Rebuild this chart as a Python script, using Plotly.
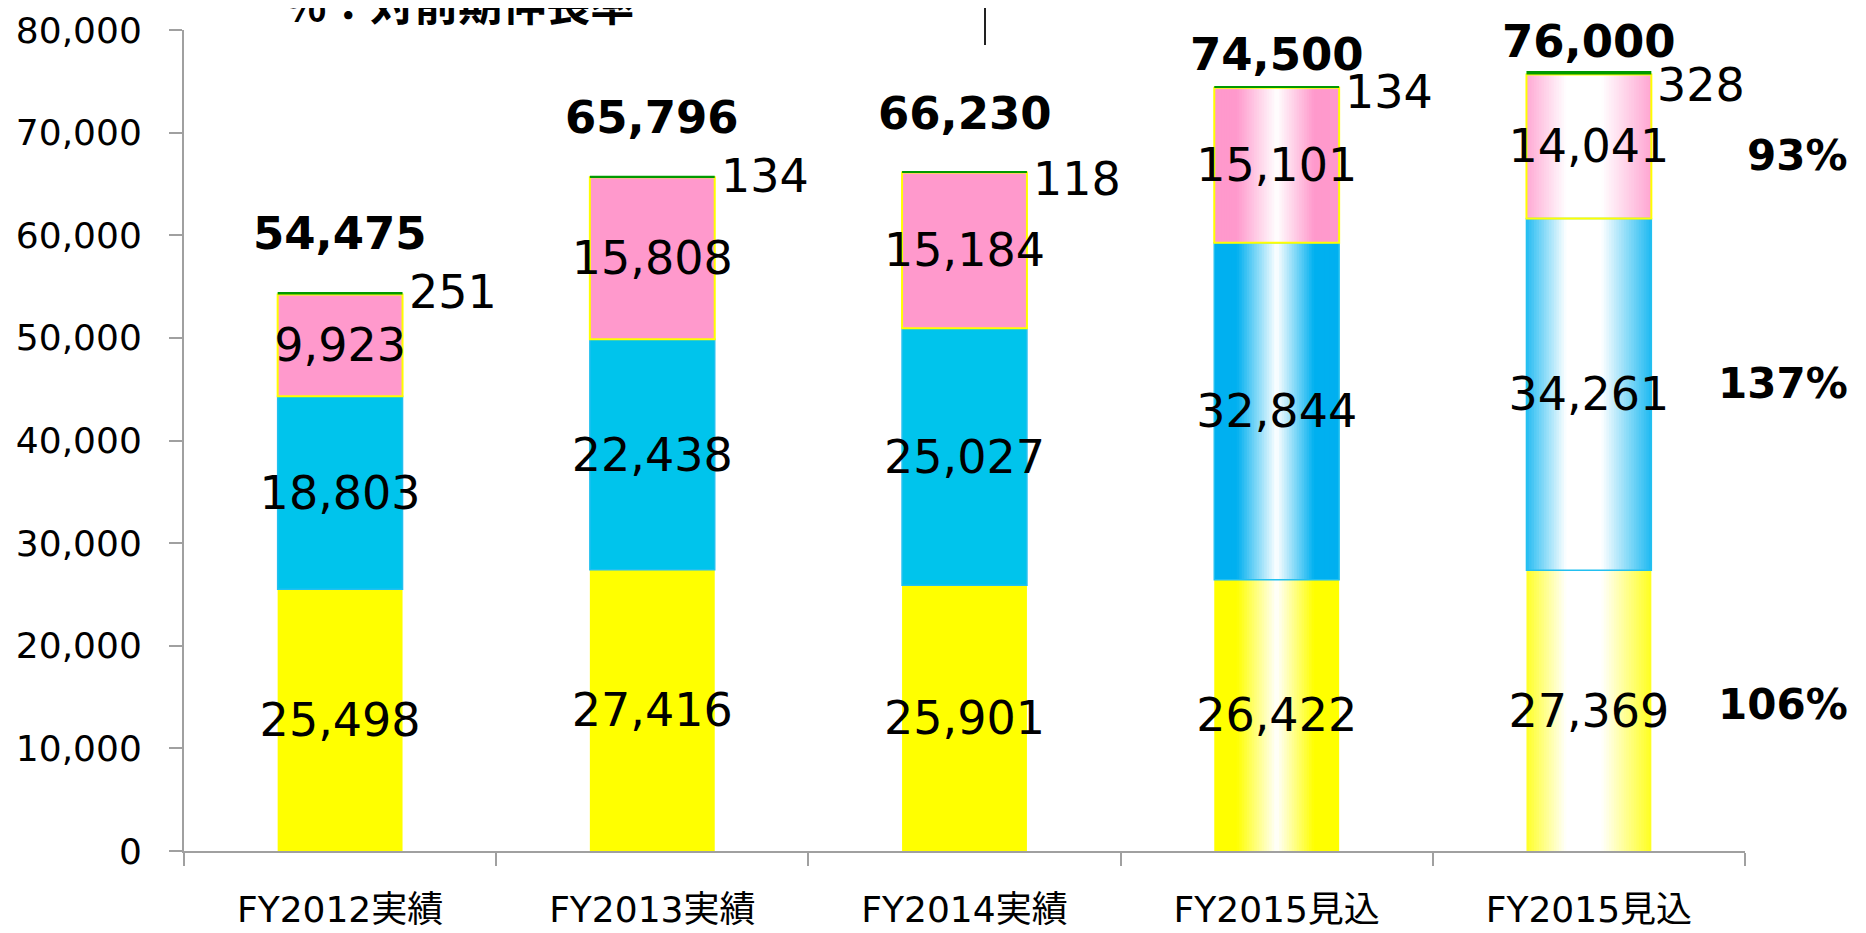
import numpy as np
import plotly.graph_objects as go

# ---------------- data ----------------
categories = ["FY2012実績", "FY2013実績", "FY2014実績", "FY2015見込", "FY2015見込\u200b"]
yellow_vals = [25498, 27416, 25901, 26422, 27369]
blue_vals = [18803, 22438, 25027, 32844, 34261]
pink_vals = [9923, 15808, 15184, 15101, 14041]
green_vals = [251, 134, 118, 134, 328]
total_labels = ["54,475", "65,796", "66,230", "74,500", "76,000"]
growth_labels = ["106%", "137%", "93%"]   # yellow, blue, pink of last bar
y_ticks = [0, 10000, 20000, 30000, 40000, 50000, 60000, 70000, 80000]
note_text = "%：対前期伸長率"

# ---------------- style ----------------
FONT = "DejaVu Sans, Verdana, Noto Sans CJK JP, sans-serif"
YEL, BLU, PNK, GRN = "#ffff00", "#00c4ec", "#ff99cc", "#009a00"
BLU_G = "#00b0f0"
BAR_W = 0.4
N_STRIPES = 50
OFF = 8  # page body margin
W_FIG, H_FIG = 1866 - OFF, 933 - OFF
L_PX, T_PX = 184 - OFF, 30 - OFF
R_PX = W_FIG - (1745 - OFF)
B_PX = H_FIG - (851 - OFF)
PW, PH = W_FIG - L_PX - R_PX, H_FIG - T_PX - B_PX

series = [yellow_vals, blue_vals, pink_vals, green_vals]
bases = []
cum = np.zeros(len(categories))
for s in series:
    bases.append(cum.copy())
    cum = cum + np.array(s)
tops = cum

gradient_bars = {3: ([0, 0.18, 0.5, 0.8, 1.0], [0, 0, 1, 0, 0]),
                 4: ([0, 0.32, 0.6, 1.0], [0.15, 1, 1, 0.12])}
grad_colors = [YEL, BLU_G, PNK]


def mix(hexc, w):
    r, g, b = int(hexc[1:3], 16), int(hexc[3:5], 16), int(hexc[5:7], 16)
    r = r + (255 - r) * w
    g = g + (255 - g) * w
    b = b + (255 - b) * w
    return f"rgb({r:.0f},{g:.0f},{b:.0f})"


def px_x(p):  # page pixel -> paper x
    return (p - OFF - L_PX) / PW


def px_y(p):  # page pixel -> paper y
    return (H_FIG - B_PX - (p - OFF)) / PH


fig = go.Figure()

# gradient stripes for forecast bars
sw = BAR_W / N_STRIPES
for i in range(N_STRIPES):
    t = (i + 0.5) / N_STRIPES
    xs, ys, bs, cs = [], [], [], []
    for bi, (px, pw) in gradient_bars.items():
        w = float(np.interp(t, px, pw))
        for si in range(3):
            xs.append(categories[bi])
            ys.append(series[si][bi])
            bs.append(bases[si][bi])
            cs.append(mix(grad_colors[si], w))
    width = sw * 1.6 if i < N_STRIPES - 1 else sw
    fig.add_trace(go.Bar(
        x=xs, y=ys, base=bs, width=width, offset=-BAR_W / 2 + i * sw,
        marker=dict(color=cs, line=dict(width=0)),
        hoverinfo="skip", showlegend=False))

# main segments
seg_styles = [
    (YEL, dict(width=0), True),
    (BLU, dict(width=1.5, color="#22c0f0"), True),
    (PNK, dict(width=2, color="#ffff00"), True),
    (GRN, dict(width=0), False),
]
for si, (col, line, show_text) in enumerate(seg_styles):
    colors = [col if (bi not in gradient_bars or si == 3) else "rgba(0,0,0,0)"
              for bi in range(len(categories))]
    fig.add_trace(go.Bar(
        x=categories, y=series[si], base=bases[si], width=BAR_W,
        marker=dict(color=colors, line=line),
        text=[f"{v:,}" for v in series[si]] if show_text else None,
        textposition="inside" if show_text else "none",
        insidetextanchor="middle", constraintext="none", textangle=0,
        textfont=dict(family=FONT, size=46, color="black"),
        insidetextfont=dict(family=FONT, size=46, color="black"),
        hoverinfo="skip", showlegend=False))

annotations = []
# small (green) values to the right of the bars
green_shift = [0, 0, -8, -6, -14]
for bi, c in enumerate(categories):
    annotations.append(dict(
        x=c, y=tops[bi], xref="x", yref="y", text=f"{green_vals[bi]:,}",
        showarrow=False, xanchor="left", yanchor="middle",
        xshift=BAR_W / 2 * PW / 5 + 4, yshift=green_shift[bi],
        font=dict(family=FONT, size=46, color="black")))
# totals
total_lift = [58, 58, 58, 32, 30]
for bi, c in enumerate(categories):
    annotations.append(dict(
        x=c, y=tops[bi], xref="x", yref="y", text=f"<b>{total_labels[bi]}</b>",
        showarrow=False, xanchor="center", yanchor="middle", yshift=total_lift[bi],
        font=dict(family=FONT, size=45, color="black")))
# growth rates
last = len(categories) - 1
growth_shift = [6, 11, -9]
for si in range(3):
    annotations.append(dict(
        x=px_x(1850), xref="paper",
        y=bases[si][last] + series[si][last] / 2, yref="y", yshift=growth_shift[si],
        text=f"<b>{growth_labels[si]}</b>", showarrow=False,
        xanchor="right", yanchor="middle",
        font=dict(family=FONT, size=42, color="black")))
# cut-off note at top
annotations.append(dict(
    x=px_x(282), xref="paper", y=px_y(2), yref="paper",
    text=f"<b>{note_text}</b>", showarrow=False, xanchor="left", yanchor="middle",
    font=dict(family="Noto Sans CJK JP, sans-serif", size=44, color="black")))

shapes = [
    dict(type="line", xref="paper", yref="paper", x0=px_x(985), x1=px_x(985),
         y0=px_y(45), y1=px_y(-5), line=dict(color="#222222", width=2)),
    dict(type="line", xref="paper", yref="paper", x0=px_x(1273), x1=px_x(1274),
         y0=px_y(3), y1=px_y(-5), line=dict(color="#222222", width=1.5)),
    dict(type="rect", xref="paper", yref="paper", x0=px_x(1348), x1=px_x(1590),
         y0=px_y(6), y1=px_y(-20), fillcolor="#ffff66",
         line=dict(color="#333333", width=2)),
]

fig.update_layout(
    width=W_FIG, height=H_FIG,
    margin=dict(l=L_PX, r=R_PX, t=T_PX, b=B_PX, autoexpand=False),
    paper_bgcolor="white", plot_bgcolor="white",
    barmode="overlay", showlegend=False,
    annotations=annotations, shapes=shapes,
    font=dict(family=FONT, color="black"),
    xaxis=dict(type="category", categoryorder="array", categoryarray=categories,
               range=[-0.5, len(categories) - 0.5],
               tickson="boundaries", ticks="outside", ticklen=13, tickwidth=2,
               tickcolor="#a0a0a0", showline=True, linecolor="#a0a0a0", linewidth=2,
               showgrid=False, zeroline=False, ticklabelstandoff=26,
               tickfont=dict(family="DejaVu Sans, Noto Sans CJK JP, sans-serif",
                             size=36, color="black")),
    yaxis=dict(range=[0, 80000], tickvals=y_ticks, tickformat=",d",
               ticks="outside", ticklen=13, tickwidth=2, tickcolor="#a0a0a0",
               showline=True, linecolor="#a0a0a0", linewidth=2,
               showgrid=False, zeroline=False, ticklabelstandoff=20,
               tickfont=dict(family=FONT, size=36, color="black")),
)

fig.write_html("out.html")
